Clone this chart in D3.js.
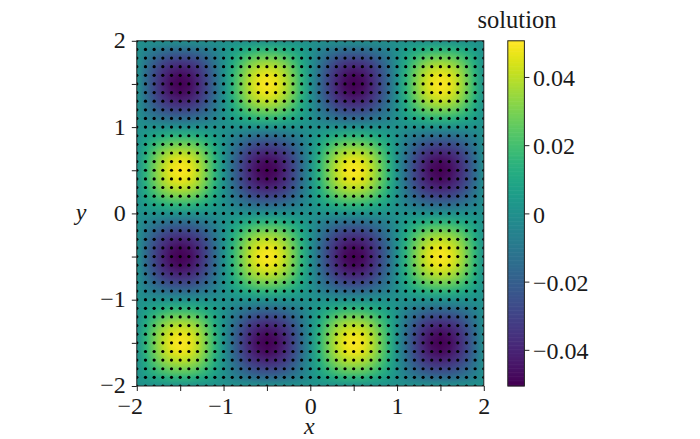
<!DOCTYPE html>
<html><head><meta charset="utf-8">
<script src="https://cdn.jsdelivr.net/npm/d3@7/dist/d3.min.js"></script>
<style>html,body{margin:0;padding:0;background:#fff}svg{display:block}text{font-family:"Liberation Serif",serif;fill:#1a1a1a}</style>
</head><body>
<script>
const gridX=[-2,-1.9,-1.8,-1.7,-1.6,-1.5,-1.4,-1.3,-1.2,-1.1,-1,-0.9,-0.8,-0.7,-0.6,-0.5,-0.4,-0.3,-0.2,-0.1,0,0.1,0.2,0.3,0.4,0.5,0.6,0.7,0.8,0.9,1,1.1,1.2,1.3,1.4,1.5,1.6,1.7,1.8,1.9,2];
const gridY=[2,1.9,1.8,1.7,1.6,1.5,1.4,1.3,1.2,1.1,1,0.9,0.8,0.7,0.6,0.5,0.4,0.3,0.2,0.1,0,-0.1,-0.2,-0.3,-0.4,-0.5,-0.6,-0.7,-0.8,-0.9,-1,-1.1,-1.2,-1.3,-1.4,-1.5,-1.6,-1.7,-1.8,-1.9,-2];
// solution values, in thousandths; rows run top to bottom
const solution=[
[0,0,0,0,0,0,0,0,0,0,0,0,0,0,0,0,0,0,0,0,0,0,0,0,0,0,0,0,0,0,0,0,0,0,0,0,0,0,0,0,0],
[0,-5,-9,-12,-15,-15,-15,-12,-9,-5,0,5,9,12,15,15,15,12,9,5,0,-5,-9,-12,-15,-15,-15,-12,-9,-5,0,5,9,12,15,15,15,12,9,5,0],
[0,-9,-17,-24,-28,-29,-28,-24,-17,-9,0,9,17,24,28,29,28,24,17,9,0,-9,-17,-24,-28,-29,-28,-24,-17,-9,0,9,17,24,28,29,28,24,17,9,0],
[0,-12,-24,-33,-38,-40,-38,-33,-24,-12,0,12,24,33,38,40,38,33,24,12,0,-12,-24,-33,-38,-40,-38,-33,-24,-12,0,12,24,33,38,40,38,33,24,12,0],
[0,-15,-28,-38,-45,-48,-45,-38,-28,-15,0,15,28,38,45,48,45,38,28,15,0,-15,-28,-38,-45,-48,-45,-38,-28,-15,0,15,28,38,45,48,45,38,28,15,0],
[0,-15,-29,-40,-48,-50,-48,-40,-29,-15,0,15,29,40,48,50,48,40,29,15,0,-15,-29,-40,-48,-50,-48,-40,-29,-15,0,15,29,40,48,50,48,40,29,15,0],
[0,-15,-28,-38,-45,-48,-45,-38,-28,-15,0,15,28,38,45,48,45,38,28,15,0,-15,-28,-38,-45,-48,-45,-38,-28,-15,0,15,28,38,45,48,45,38,28,15,0],
[0,-12,-24,-33,-38,-40,-38,-33,-24,-12,0,12,24,33,38,40,38,33,24,12,0,-12,-24,-33,-38,-40,-38,-33,-24,-12,0,12,24,33,38,40,38,33,24,12,0],
[0,-9,-17,-24,-28,-29,-28,-24,-17,-9,0,9,17,24,28,29,28,24,17,9,0,-9,-17,-24,-28,-29,-28,-24,-17,-9,0,9,17,24,28,29,28,24,17,9,0],
[0,-5,-9,-12,-15,-15,-15,-12,-9,-5,0,5,9,12,15,15,15,12,9,5,0,-5,-9,-12,-15,-15,-15,-12,-9,-5,0,5,9,12,15,15,15,12,9,5,0],
[0,0,0,0,0,0,0,0,0,0,0,0,0,0,0,0,0,0,0,0,0,0,0,0,0,0,0,0,0,0,0,0,0,0,0,0,0,0,0,0,0],
[0,5,9,12,15,15,15,12,9,5,0,-5,-9,-12,-15,-15,-15,-12,-9,-5,0,5,9,12,15,15,15,12,9,5,0,-5,-9,-12,-15,-15,-15,-12,-9,-5,0],
[0,9,17,24,28,29,28,24,17,9,0,-9,-17,-24,-28,-29,-28,-24,-17,-9,0,9,17,24,28,29,28,24,17,9,0,-9,-17,-24,-28,-29,-28,-24,-17,-9,0],
[0,12,24,33,38,40,38,33,24,12,0,-12,-24,-33,-38,-40,-38,-33,-24,-12,0,12,24,33,38,40,38,33,24,12,0,-12,-24,-33,-38,-40,-38,-33,-24,-12,0],
[0,15,28,38,45,48,45,38,28,15,0,-15,-28,-38,-45,-48,-45,-38,-28,-15,0,15,28,38,45,48,45,38,28,15,0,-15,-28,-38,-45,-48,-45,-38,-28,-15,0],
[0,15,29,40,48,50,48,40,29,15,0,-15,-29,-40,-48,-50,-48,-40,-29,-15,0,15,29,40,48,50,48,40,29,15,0,-15,-29,-40,-48,-50,-48,-40,-29,-15,0],
[0,15,28,38,45,48,45,38,28,15,0,-15,-28,-38,-45,-48,-45,-38,-28,-15,0,15,28,38,45,48,45,38,28,15,0,-15,-28,-38,-45,-48,-45,-38,-28,-15,0],
[0,12,24,33,38,40,38,33,24,12,0,-12,-24,-33,-38,-40,-38,-33,-24,-12,0,12,24,33,38,40,38,33,24,12,0,-12,-24,-33,-38,-40,-38,-33,-24,-12,0],
[0,9,17,24,28,29,28,24,17,9,0,-9,-17,-24,-28,-29,-28,-24,-17,-9,0,9,17,24,28,29,28,24,17,9,0,-9,-17,-24,-28,-29,-28,-24,-17,-9,0],
[0,5,9,12,15,15,15,12,9,5,0,-5,-9,-12,-15,-15,-15,-12,-9,-5,0,5,9,12,15,15,15,12,9,5,0,-5,-9,-12,-15,-15,-15,-12,-9,-5,0],
[0,0,0,0,0,0,0,0,0,0,0,0,0,0,0,0,0,0,0,0,0,0,0,0,0,0,0,0,0,0,0,0,0,0,0,0,0,0,0,0,0],
[0,-5,-9,-12,-15,-15,-15,-12,-9,-5,0,5,9,12,15,15,15,12,9,5,0,-5,-9,-12,-15,-15,-15,-12,-9,-5,0,5,9,12,15,15,15,12,9,5,0],
[0,-9,-17,-24,-28,-29,-28,-24,-17,-9,0,9,17,24,28,29,28,24,17,9,0,-9,-17,-24,-28,-29,-28,-24,-17,-9,0,9,17,24,28,29,28,24,17,9,0],
[0,-12,-24,-33,-38,-40,-38,-33,-24,-12,0,12,24,33,38,40,38,33,24,12,0,-12,-24,-33,-38,-40,-38,-33,-24,-12,0,12,24,33,38,40,38,33,24,12,0],
[0,-15,-28,-38,-45,-48,-45,-38,-28,-15,0,15,28,38,45,48,45,38,28,15,0,-15,-28,-38,-45,-48,-45,-38,-28,-15,0,15,28,38,45,48,45,38,28,15,0],
[0,-15,-29,-40,-48,-50,-48,-40,-29,-15,0,15,29,40,48,50,48,40,29,15,0,-15,-29,-40,-48,-50,-48,-40,-29,-15,0,15,29,40,48,50,48,40,29,15,0],
[0,-15,-28,-38,-45,-48,-45,-38,-28,-15,0,15,28,38,45,48,45,38,28,15,0,-15,-28,-38,-45,-48,-45,-38,-28,-15,0,15,28,38,45,48,45,38,28,15,0],
[0,-12,-24,-33,-38,-40,-38,-33,-24,-12,0,12,24,33,38,40,38,33,24,12,0,-12,-24,-33,-38,-40,-38,-33,-24,-12,0,12,24,33,38,40,38,33,24,12,0],
[0,-9,-17,-24,-28,-29,-28,-24,-17,-9,0,9,17,24,28,29,28,24,17,9,0,-9,-17,-24,-28,-29,-28,-24,-17,-9,0,9,17,24,28,29,28,24,17,9,0],
[0,-5,-9,-12,-15,-15,-15,-12,-9,-5,0,5,9,12,15,15,15,12,9,5,0,-5,-9,-12,-15,-15,-15,-12,-9,-5,0,5,9,12,15,15,15,12,9,5,0],
[0,0,0,0,0,0,0,0,0,0,0,0,0,0,0,0,0,0,0,0,0,0,0,0,0,0,0,0,0,0,0,0,0,0,0,0,0,0,0,0,0],
[0,5,9,12,15,15,15,12,9,5,0,-5,-9,-12,-15,-15,-15,-12,-9,-5,0,5,9,12,15,15,15,12,9,5,0,-5,-9,-12,-15,-15,-15,-12,-9,-5,0],
[0,9,17,24,28,29,28,24,17,9,0,-9,-17,-24,-28,-29,-28,-24,-17,-9,0,9,17,24,28,29,28,24,17,9,0,-9,-17,-24,-28,-29,-28,-24,-17,-9,0],
[0,12,24,33,38,40,38,33,24,12,0,-12,-24,-33,-38,-40,-38,-33,-24,-12,0,12,24,33,38,40,38,33,24,12,0,-12,-24,-33,-38,-40,-38,-33,-24,-12,0],
[0,15,28,38,45,48,45,38,28,15,0,-15,-28,-38,-45,-48,-45,-38,-28,-15,0,15,28,38,45,48,45,38,28,15,0,-15,-28,-38,-45,-48,-45,-38,-28,-15,0],
[0,15,29,40,48,50,48,40,29,15,0,-15,-29,-40,-48,-50,-48,-40,-29,-15,0,15,29,40,48,50,48,40,29,15,0,-15,-29,-40,-48,-50,-48,-40,-29,-15,0],
[0,15,28,38,45,48,45,38,28,15,0,-15,-28,-38,-45,-48,-45,-38,-28,-15,0,15,28,38,45,48,45,38,28,15,0,-15,-28,-38,-45,-48,-45,-38,-28,-15,0],
[0,12,24,33,38,40,38,33,24,12,0,-12,-24,-33,-38,-40,-38,-33,-24,-12,0,12,24,33,38,40,38,33,24,12,0,-12,-24,-33,-38,-40,-38,-33,-24,-12,0],
[0,9,17,24,28,29,28,24,17,9,0,-9,-17,-24,-28,-29,-28,-24,-17,-9,0,9,17,24,28,29,28,24,17,9,0,-9,-17,-24,-28,-29,-28,-24,-17,-9,0],
[0,5,9,12,15,15,15,12,9,5,0,-5,-9,-12,-15,-15,-15,-12,-9,-5,0,5,9,12,15,15,15,12,9,5,0,-5,-9,-12,-15,-15,-15,-12,-9,-5,0],
[0,0,0,0,0,0,0,0,0,0,0,0,0,0,0,0,0,0,0,0,0,0,0,0,0,0,0,0,0,0,0,0,0,0,0,0,0,0,0,0,0]
];
const axisTicks=[-2,-1.5,-1,-0.5,0,0.5,1,1.5,2];
const colorTicks=[-0.04,-0.02,0,0.02,0.04];
const colorLimits=[-0.0506,0.0506];

const W=700,H=439,FS=24;
const svg=d3.select("body").append("svg").attr("width",W).attr("height",H);
const x=d3.scaleLinear().domain([-2,2]).range([136.8,483.8]);
const y=d3.scaleLinear().domain([-2,2]).range([386,40.8]);
const color=d3.scaleSequential(d3.interpolateViridis).domain([-0.05,0.05]).clamp(true);
const cy=d3.scaleLinear().domain(colorLimits).range([386,40.8]);

const clip=svg.append("defs").append("clipPath").attr("id","plot");
clip.append("rect").attr("x",x(-2)).attr("y",y(2)).attr("width",x(2)-x(-2)).attr("height",y(-2)-y(2));

// field: one image pixel per solution value, smoothed by the browser
const off=document.createElement("canvas");
off.width=gridX.length;off.height=gridY.length;
const ctx=off.getContext("2d");
solution.forEach((row,j)=>row.forEach((v,i)=>{ctx.fillStyle=color(v/1000);ctx.fillRect(i,j,1,1);}));
const plot=svg.append("g").attr("clip-path","url(#plot)");
plot.append("image").attr("href",off.toDataURL())
  .attr("x",x(-2.05)).attr("y",y(2.05)).attr("width",x(2.05)-x(-2.05)).attr("height",y(-2.05)-y(2.05))
  .attr("preserveAspectRatio","none");

// sample points
const pts=gridY.flatMap(b=>gridX.map(a=>[a,b]));
plot.append("g").selectAll("circle").data(pts).join("circle")
  .attr("cx",d=>x(d[0])).attr("cy",d=>y(d[1])).attr("r",1.6).attr("fill","#000");

// axes
const styleAxis=g=>{g.selectAll("text").style("font-size",FS+"px").attr("fill","#1a1a1a");
  g.selectAll("line,path").attr("stroke","#222").attr("stroke-width",1);};
const lab=d=>Number.isInteger(d)?String(d).replace("-","\u2212"):"";
const xShift=d=>d===-2?-7:d===-1?-3:0;
svg.append("g").attr("transform",`translate(0,${y(-2)})`)
  .call(d3.axisBottom(x).tickValues(axisTicks).tickFormat(lab).tickSize(5).tickPadding(6)).call(styleAxis)
  .selectAll(".tick text").attr("dx",d=>xShift(d));
svg.append("g").attr("transform",`translate(${x(-2)},0)`)
  .call(d3.axisLeft(y).tickValues(axisTicks).tickFormat(lab).tickSize(5).tickPadding(6)).call(styleAxis)
  .selectAll(".tick text").attr("dy","0.29em");
svg.append("rect").attr("x",x(-2)).attr("y",y(2)).attr("width",x(2)-x(-2)).attr("height",y(-2)-y(2))
  .attr("fill","none").attr("stroke","#222").attr("stroke-width",1);

svg.append("text").attr("x",x(0)-1).attr("y",433.7).attr("text-anchor","middle")
  .style("font-size",FS+"px").style("font-style","italic").text("x");
svg.append("text").attr("x",81).attr("y",220).attr("text-anchor","middle")
  .style("font-size",FS+"px").style("font-style","italic").text("y");

// colorbar
const barX0=507.8,barX1=524.4;
const barSteps=d3.range(256).map(i=>colorLimits[0]+(colorLimits[1]-colorLimits[0])*i/256);
const barH=(cy.range()[0]-cy.range()[1])/256;
svg.append("g").selectAll("rect").data(barSteps).join("rect")
  .attr("x",barX0).attr("width",barX1-barX0)
  .attr("y",d=>cy(d)-barH-0.3).attr("height",barH+0.6)
  .attr("fill",d=>color(d+(colorLimits[1]-colorLimits[0])/512));
svg.append("g").attr("transform",`translate(${barX1},0)`)
  .call(d3.axisRight(cy).tickValues(colorTicks).tickFormat(d=>d===0?"0":String(d).replace("-","\u2212")).tickSize(5).tickPadding(3.5)).call(styleAxis)
  .selectAll(".tick text").attr("dy","0.36em");
svg.append("rect").attr("x",barX0).attr("y",cy.range()[1]).attr("width",barX1-barX0).attr("height",cy.range()[0]-cy.range()[1])
  .attr("fill","none").attr("stroke","#222").attr("stroke-width",1);
svg.append("text").attr("x",517).attr("y",28.3).attr("text-anchor","middle")
  .style("font-size","24.5px").text("solution");
svg.selectAll(".domain").attr("stroke","none");
</script>
</body></html>
